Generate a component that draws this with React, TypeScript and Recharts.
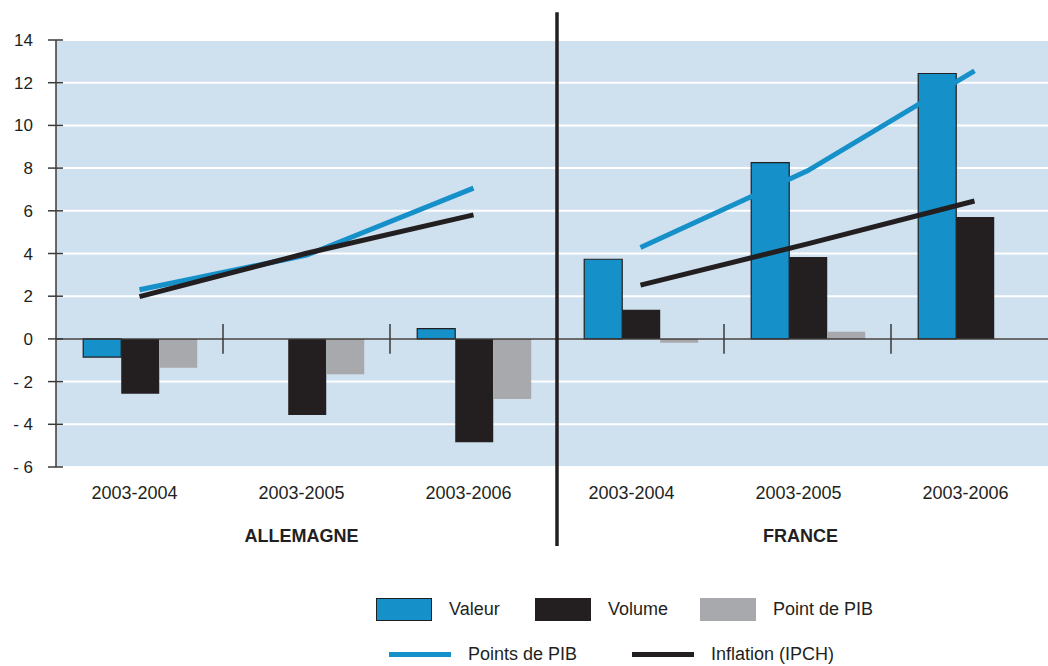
import React from "react";
import {
  ComposedChart,
  Bar,
  Line,
  XAxis,
  YAxis,
  CartesianGrid,
  ReferenceLine,
} from "recharts";

const countries = ["ALLEMAGNE", "FRANCE"];
const periods = ["2003-2004", "2003-2005", "2003-2006"];

// one value per (country, period): Allemagne x3 then France x3
const valeur = [-0.85, 0, 0.48, 3.73, 8.26, 12.43];
const volume = [-2.57, -3.57, -4.84, 1.36, 3.84, 5.71];
const pointPib = [-1.35, -1.65, -2.82, -0.18, 0.33, 0];
const pointsPibLine = [2.3, 3.92, 7.06, 4.28, 7.87, 12.55];
const inflation = [1.98, 4.01, 5.81, 2.52, 4.45, 6.46];

const yTicks = [-6, -4, -2, 0, 2, 4, 6, 8, 10, 12, 14];
// categories whose left edge gets a small tick across the zero line
const boundaries = [1, 2, 4, 5];

const BLUE = "#1590c9";
const BLACK = "#231f20";
const GREY = "#a7a9ac";
const BG = "#cfe0ef";
const FONT = "'Liberation Sans', Arial, Helvetica, sans-serif";

const data = countries.flatMap((c, ci) =>
  periods.map((p, pi) => {
    const i = ci * 3 + pi;
    return {
      key: `${c}|${p}`,
      valeur: valeur[i],
      volume: volume[i],
      pointPib: pointPib[i],
      pibDE: ci === 0 ? pointsPibLine[i] : null,
      pibFR: ci === 1 ? pointsPibLine[i] : null,
      inflDE: ci === 0 ? inflation[i] : null,
      inflFR: ci === 1 ? inflation[i] : null,
    };
  })
);

function XTick(props: any) {
  const { x, y, payload } = props;
  const [country, period] = String(payload.value).split("|");
  const isDE = country === countries[0];
  const showGroup = period === periods[1];
  return (
    <g>
      <text
        x={x + (isDE ? -5 : -9)}
        y={y + 32}
        textAnchor="middle"
        fontSize={18}
        fontFamily={FONT}
        fill={BLACK}
      >
        {period}
      </text>
      {showGroup && (
        <text
          x={x + (isDE ? -5 : -7)}
          y={y + 75}
          textAnchor="middle"
          fontSize={18}
          fontWeight="bold"
          fontFamily={FONT}
          fill={BLACK}
        >
          {country}
        </text>
      )}
    </g>
  );
}

function YTick(props: any) {
  const { x, y, payload } = props;
  const v = payload.value;
  return (
    <g>
      <line x1={x + 15} x2={x + 30} y1={y} y2={y} stroke="#3a3a3a" strokeWidth={1.5} />
      <text
        x={x}
        y={y + 6}
        textAnchor="end"
        fontSize={17}
        fontFamily={FONT}
        fill={BLACK}
      >
        {v < 0 ? `- ${-v}` : `${v}`}
      </text>
    </g>
  );
}

function LegendSwatch({ color, border }: { color: string; border?: boolean }) {
  return (
    <span
      style={{
        display: "block",
        width: 56,
        height: 23,
        boxSizing: "border-box",
        background: color,
        border: border ? `1.5px solid ${BLACK}` : "none",
      }}
    />
  );
}

function LegendLine({ color }: { color: string }) {
  return <span style={{ display: "block", width: 62, height: 5, background: color }} />;
}

const legendText: React.CSSProperties = {
  position: "absolute",
  fontFamily: FONT,
  fontSize: 18,
  color: BLACK,
  lineHeight: "20px",
  whiteSpace: "nowrap",
};

export default function App() {
  return (
    <div
      style={{
        position: "absolute",
        left: 0,
        top: 0,
        width: 1048,
        height: 666,
        overflow: "hidden",
        background: "#fff",
      }}
    >
      <ComposedChart
        width={1058}
        height={560}
        data={data}
        margin={{ top: 40, right: 0, bottom: 0, left: 0 }}
        barCategoryGap="16.3%"
        barGap={0}
      >
        <CartesianGrid
          vertical={false}
          horizontal
          stroke="#ffffff"
          strokeWidth={2}
          fill={BG}
        />
        <XAxis
          dataKey="key"
          height={93}
          axisLine={false}
          tickLine={false}
          tickSize={0}
          tickMargin={0}
          interval={0}
          tick={<XTick />}
        />
        <YAxis
          width={56}
          domain={[-6, 14]}
          ticks={yTicks}
          interval={0}
          axisLine={{ stroke: "#3a3a3a", strokeWidth: 1.5 }}
          tickLine={false}
          tickSize={8}
          tickMargin={15}
          tick={<YTick />}
        />
        <ReferenceLine y={0} stroke="#3a3a3a" strokeWidth={1.5} />
        {boundaries.map((b) => (
          <ReferenceLine
            key={b}
            position="start"
            segment={[
              { x: data[b].key, y: 0.7 },
              { x: data[b].key, y: -0.7 },
            ]}
            stroke="#3a3a3a"
            strokeWidth={1.5}
          />
        ))}
        <Line
          dataKey="pibDE"
          stroke={BLUE}
          strokeWidth={5}
          dot={false}
          activeDot={false}
          isAnimationActive={false}
          legendType="none"
        />
        <Line
          dataKey="pibFR"
          stroke={BLUE}
          strokeWidth={5}
          dot={false}
          activeDot={false}
          isAnimationActive={false}
          legendType="none"
        />
        <Bar
          dataKey="valeur"
          fill={BLUE}
          stroke={BLACK}
          strokeWidth={1.2}
          isAnimationActive={false}
        />
        <Bar dataKey="volume" fill={BLACK} isAnimationActive={false} />
        <Bar dataKey="pointPib" fill={GREY} isAnimationActive={false} />
        <Line
          dataKey="inflDE"
          stroke={BLACK}
          strokeWidth={5}
          dot={false}
          activeDot={false}
          isAnimationActive={false}
          legendType="none"
        />
        <Line
          dataKey="inflFR"
          stroke={BLACK}
          strokeWidth={5}
          dot={false}
          activeDot={false}
          isAnimationActive={false}
          legendType="none"
        />
        <ReferenceLine
          position="start"
          segment={[
            { x: data[3].key, y: 15.3 },
            { x: data[3].key, y: -9.7 },
          ]}
          ifOverflow="visible"
          stroke={BLACK}
          strokeWidth={3.5}
        />
      </ComposedChart>

      {/* legend */}
      <div style={{ position: "absolute", left: 376, top: 598 }}>
        <LegendSwatch color={BLUE} border />
      </div>
      <div style={{ ...legendText, left: 449, top: 599 }}>Valeur</div>
      <div style={{ position: "absolute", left: 535, top: 598 }}>
        <LegendSwatch color={BLACK} />
      </div>
      <div style={{ ...legendText, left: 608, top: 599 }}>Volume</div>
      <div style={{ position: "absolute", left: 700, top: 598 }}>
        <LegendSwatch color={GREY} />
      </div>
      <div style={{ ...legendText, left: 773, top: 599 }}>Point de PIB</div>

      <div style={{ position: "absolute", left: 389, top: 652 }}>
        <LegendLine color={BLUE} />
      </div>
      <div style={{ ...legendText, left: 468, top: 644 }}>Points de PIB</div>
      <div style={{ position: "absolute", left: 632, top: 652 }}>
        <LegendLine color={BLACK} />
      </div>
      <div style={{ ...legendText, left: 711, top: 644 }}>Inflation (IPCH)</div>
    </div>
  );
}
